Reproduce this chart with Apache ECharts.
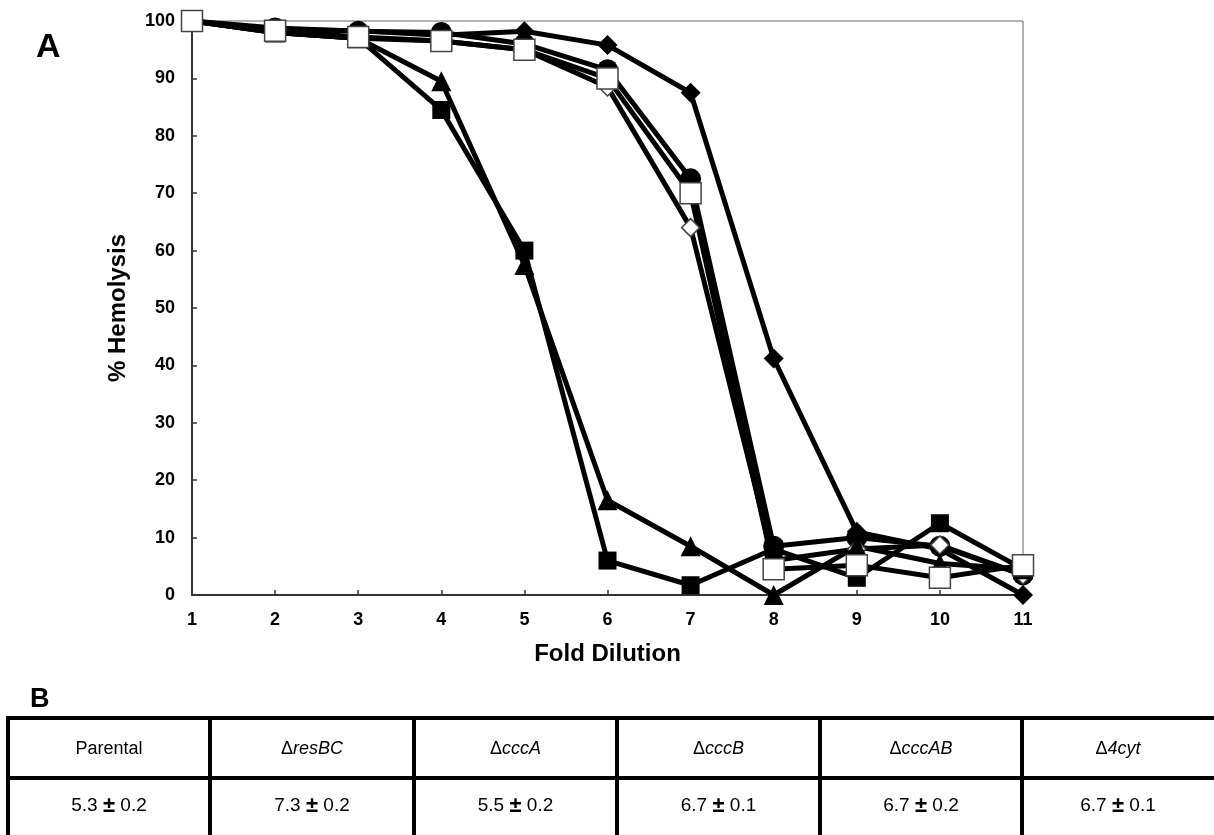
<!DOCTYPE html>
<html>
<head>
<meta charset="utf-8">
<script src="https://cdn.jsdelivr.net/npm/echarts@6/dist/echarts.min.js"></script>
<style>
  html, body { margin: 0; padding: 0; background: #fff; }
  #chart { width: 1214px; height: 835px; }
</style>
</head>
<body>
<div id="chart"></div>
<script>
var myChart = echarts.init(document.getElementById('chart'));

// fold dilution (x axis)
var foldDilution = [1, 2, 3, 4, 5, 6, 7, 8, 9, 10, 11];
// % hemolysis for each strain
var filledDiamond  = [100, 98.5, 98.3, 97.5, 98.2, 95.8, 87.5, 41.2, 11, 8, 0];
var filledCircle   = [100, 98.8, 98.2, 98, 96, 91.5, 72.5, 8.5, 10, 8.5, 3.5];
var openDiamond    = [100, 98, 97, 96.5, 95, 88.5, 64, 6, 8, 8.7, 3.5];
var filledSquare   = [100, 98, 97, 84.5, 60, 6, 1.7, 8, 3, 12.5, 4.5];
var filledTriangle = [100, 98, 97, 89.5, 57.5, 16.5, 8.5, 0, 8.5, 5.5, 4.5];
var openSquare     = [100, 98.3, 97.2, 96.5, 95, 90, 70, 4.5, 5.2, 3, 5.2];

// table B
var strainNames = [
    { delta: false, name: 'Parental' },
    { delta: true, name: 'resBC' },
    { delta: true, name: 'cccA' },
    { delta: true, name: 'cccB' },
    { delta: true, name: 'cccAB' },
    { delta: true, name: '4cyt' }
];
var titerMean = ['5.3', '7.3', '5.5', '6.7', '6.7', '6.7'];
var titerSd   = ['0.2', '0.2', '0.2', '0.1', '0.2', '0.1'];

var FONT = '"Liberation Sans", Arial, sans-serif';

function pairs(arr) {
    return arr.map(function (v, i) { return [foldDilution[i], v]; });
}

function makeSeries(data, symbol, size, open) {
    return {
        type: 'line',
        data: pairs(data),
        symbol: symbol,
        symbolSize: size,
        showAllSymbol: true,
        lineStyle: { color: '#000', width: 5 },
        itemStyle: open
            ? { color: '#fff', borderColor: '#444', borderWidth: 1.5 }
            : { color: '#000', borderColor: '#000', borderWidth: 0 },
        emphasis: { disabled: true },
        animation: false
    };
}

// table graphics
var colX = [8, 210, 414, 617, 820, 1022, 1224];
var tableTop = 718, tableMid = 778, tableBottom = 838;
var tableEls = [];
tableEls.push({ type: 'rect', shape: { x: colX[0], y: tableTop, width: colX[6] - colX[0], height: tableBottom - tableTop },
    style: { fill: 'none', stroke: '#000', lineWidth: 4 } });
tableEls.push({ type: 'line', shape: { x1: colX[0], y1: tableMid, x2: colX[6], y2: tableMid },
    style: { stroke: '#000', lineWidth: 4 } });
for (var c = 1; c < 6; c++) {
    tableEls.push({ type: 'line', shape: { x1: colX[c], y1: tableTop, x2: colX[c], y2: tableBottom },
        style: { stroke: '#000', lineWidth: 4 } });
}
strainNames.forEach(function (s, i) {
    // last column is cut by the page edge
    var cx = i === 5 ? (colX[5] + 1214) / 2 : (colX[i] + colX[i + 1]) / 2;
    tableEls.push({
        type: 'text', x: cx, y: (tableTop + tableMid) / 2 + 1,
        style: {
            text: s.delta ? '{d|Δ}{i|' + s.name + '}' : '{n|' + s.name + '}',
            align: 'center', verticalAlign: 'middle',
            rich: {
                d: { fontFamily: FONT, fontSize: 18, fill: '#000' },
                i: { fontFamily: FONT, fontSize: 18, fontStyle: 'italic', fill: '#000' },
                n: { fontFamily: FONT, fontSize: 18, fill: '#000' }
            }
        }
    });
    tableEls.push({
        type: 'text', x: cx, y: (tableMid + tableBottom) / 2 - 2,
        style: {
            text: '{n|' + titerMean[i] + ' }{b|±}{n| ' + titerSd[i] + '}',
            align: 'center', verticalAlign: 'middle',
            rich: {
                n: { fontFamily: FONT, fontSize: 19, fill: '#000' },
                b: { fontFamily: FONT, fontSize: 22, fontWeight: 'bold', fill: '#000' }
            }
        }
    });
});

var option = {
    backgroundColor: '#fff',
    animation: false,
    grid: {
        left: 192, right: 191, top: 21, bottom: 240,
        show: true, borderColor: '#666', borderWidth: 1
    },
    xAxis: {
        type: 'value',
        min: 1, max: 11, interval: 1,
        name: 'Fold Dilution',
        nameLocation: 'middle',
        nameGap: 47,
        nameTextStyle: { fontFamily: FONT, fontWeight: 'bold', fontSize: 24, color: '#000' },
        axisLine: { lineStyle: { color: '#333', width: 2 } },
        axisTick: { inside: true, length: 5, lineStyle: { color: '#333', width: 1.5 } },
        axisLabel: { fontFamily: FONT, fontWeight: 'bold', fontSize: 18, color: '#000', margin: 16 },
        splitLine: { show: false }
    },
    yAxis: {
        type: 'value',
        min: 0, max: 100, interval: 10,
        name: '% Hemolysis',
        nameLocation: 'middle',
        nameGap: 62,
        nameTextStyle: { fontFamily: FONT, fontWeight: 'bold', fontSize: 24, color: '#000' },
        axisLine: { show: true, lineStyle: { color: '#333', width: 2 } },
        axisTick: { show: true, inside: true, length: 5, lineStyle: { color: '#333', width: 1.5 } },
        axisLabel: { fontFamily: FONT, fontWeight: 'bold', fontSize: 18, color: '#000', margin: 17 },
        splitLine: { show: false }
    },
    series: [
        makeSeries(filledDiamond, 'diamond', 20, false),
        makeSeries(filledCircle, 'circle', 21, false),
        makeSeries(openDiamond, 'diamond', 18, true),
        makeSeries(filledSquare, 'rect', 18, false),
        makeSeries(filledTriangle, 'triangle', 20, false),
        makeSeries(openSquare, 'rect', 21, true)
    ],
    graphic: [
        { type: 'text', left: 36, top: 31, style: { text: 'A', fontFamily: FONT, fontWeight: 'bold', fontSize: 34, fill: '#000' } },
        { type: 'text', left: 30, top: 686, style: { text: 'B', fontFamily: FONT, fontWeight: 'bold', fontSize: 27, fill: '#000' } }
    ].concat(tableEls)
};

myChart.setOption(option);
</script>
</body>
</html>
